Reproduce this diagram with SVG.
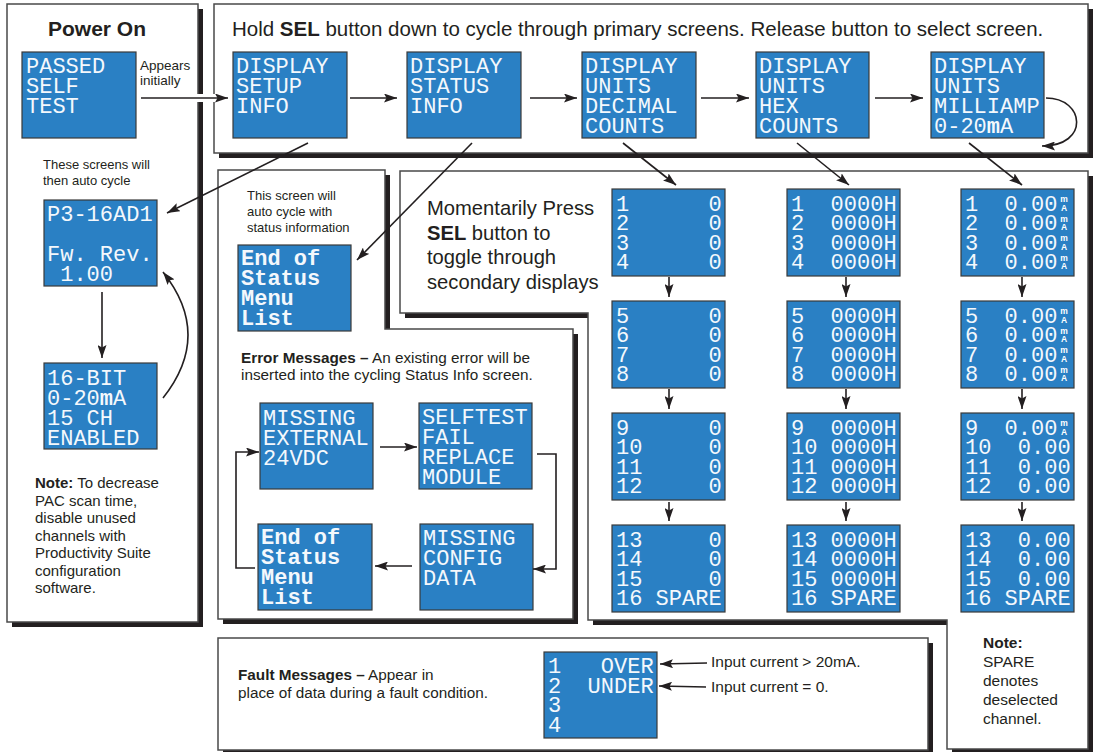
<svg xmlns="http://www.w3.org/2000/svg" width="1096" height="752" viewBox="0 0 1096 752">
<style>
.panel{fill:#fff;stroke:#4a4a4a;stroke-width:1.5}
.shadow{fill:#231f20}
.lcd{fill:#2a80c4;stroke:#3a3a3a;stroke-width:1.2}
.lt{font-family:"Liberation Mono","DejaVu Sans Mono",monospace;font-size:22px;fill:#f4f8fc}
.lb{font-weight:bold}
.mini{font-family:"Liberation Sans",Arial,sans-serif;font-size:8.5px;font-weight:bold;fill:#fff;text-anchor:middle}
.t{font-family:"Liberation Sans",Arial,sans-serif;fill:#231f20}
.c{fill:none;stroke:#231f20;stroke-width:1.6}
.halo{fill:none;stroke:#fff;stroke-width:8}
</style>
<defs>
<marker id="ah" viewBox="0 0 13 9" refX="13" refY="4.5" markerWidth="13" markerHeight="9" markerUnits="userSpaceOnUse" orient="auto"><path d="M0,0 L13,4.5 L0,9 L2.5,4.5 z" fill="#231f20"/></marker>
</defs>

<g id="panels">
<rect class="shadow" x="12" y="9" width="191" height="618"/>
<rect class="panel" x="7" y="4" width="191" height="618"/>
<rect class="shadow" x="219" y="9" width="874" height="149"/>
<rect class="panel" x="214" y="4" width="874" height="149"/>
<polygon class="shadow" transform="translate(5,5)" points="218,170 385,170 385,329 573,329 573,619 218,619"/>
<polygon class="panel" points="218,170 385,170 385,329 573,329 573,619 218,619"/>
<polygon class="shadow" transform="translate(5,5)" points="400,171 1088,171 1088,749 947,749 947,620 588,620 588,313 400,313"/>
<polygon class="panel" points="400,171 1088,171 1088,749 947,749 947,620 588,620 588,313 400,313"/>
<rect class="shadow" x="223" y="643" width="710" height="112"/>
<rect class="panel" x="218" y="638" width="710" height="112"/>
</g>

<g id="texts">
<text class="t" x="97" y="36" font-size="21" font-weight="bold" text-anchor="middle">Power On</text>
<text class="t" x="140" y="70" font-size="13.5">Appears</text>
<text class="t" x="140" y="85" font-size="13.5">initially</text>
<text class="t" x="43" y="169" font-size="13">These screens will</text>
<text class="t" x="43" y="185" font-size="13">then auto cycle</text>
<text class="t" font-size="15"><tspan x="35" y="488"><tspan font-weight="bold">Note:</tspan> To decrease</tspan><tspan x="35" y="505.5">PAC scan time,</tspan><tspan x="35" y="523">disable unused</tspan><tspan x="35" y="540.5">channels with</tspan><tspan x="35" y="558">Productivity Suite</tspan><tspan x="35" y="575.5">configuration</tspan><tspan x="35" y="593">software.</tspan></text>
<text class="t" x="232" y="36" font-size="20.5">Hold <tspan font-weight="bold">SEL</tspan> button down to cycle through primary screens. Release button to select screen.</text>
<text class="t" font-size="20.2"><tspan x="427" y="215">Momentarily Press</tspan><tspan x="427" y="239.5"><tspan font-weight="bold">SEL</tspan> button to</tspan><tspan x="427" y="264">toggle through</tspan><tspan x="427" y="288.5">secondary displays</tspan></text>
<text class="t" font-size="13"><tspan x="247" y="200">This screen will</tspan><tspan x="247" y="216">auto cycle with</tspan><tspan x="247" y="232">status information</tspan></text>
<text class="t" font-size="15.3"><tspan x="241" y="363"><tspan font-weight="bold">Error Messages –</tspan> An existing error will be</tspan><tspan x="241" y="380">inserted into the cycling Status Info screen.</tspan></text>
<text class="t" font-size="15.3"><tspan x="238" y="680"><tspan font-weight="bold">Fault Messages –</tspan> Appear in</tspan><tspan x="238" y="698">place of data during a fault condition.</tspan></text>
<text class="t" x="711" y="667" font-size="15.5">Input current &gt; 20mA.</text>
<text class="t" x="711" y="692" font-size="15.5">Input current = 0.</text>
<text class="t" font-size="15.5"><tspan x="983" y="648" font-weight="bold">Note:</tspan><tspan x="983" y="667">SPARE</tspan><tspan x="983" y="686">denotes</tspan><tspan x="983" y="705">deselected</tspan><tspan x="983" y="724">channel.</tspan></text>
</g>

<g id="scr-passed"><rect class="lcd" x="22" y="52" width="114" height="86"/><text class="lt"><tspan x="26" y="73">PASSED</tspan><tspan x="26" y="93">SELF</tspan><tspan x="26" y="113">TEST</tspan></text></g>
<g id="scr-p3"><rect class="lcd" x="44" y="200" width="113" height="86"/><text class="lt" xml:space="preserve"><tspan x="47" y="221">P3-16AD1</tspan><tspan x="47" y="261">Fw. Rev.</tspan><tspan x="47" y="281"> 1.00</tspan></text></g>
<g id="scr-16bit"><rect class="lcd" x="44" y="363" width="113" height="86"/><text class="lt"><tspan x="47" y="385">16-BIT</tspan><tspan x="47" y="405">0-20<tspan class="lb">m</tspan>A</tspan><tspan x="47" y="425">15 CH</tspan><tspan x="47" y="445">ENABLED</tspan></text></g>

<g id="scr-setup"><rect class="lcd" x="233" y="52" width="114" height="86"/><text class="lt"><tspan x="236" y="73">DISPLAY</tspan><tspan x="236" y="93">SETUP</tspan><tspan x="236" y="113">INFO</tspan></text></g>
<g id="scr-status"><rect class="lcd" x="407" y="52" width="114" height="86"/><text class="lt"><tspan x="410" y="73">DISPLAY</tspan><tspan x="410" y="93">STATUS</tspan><tspan x="410" y="113">INFO</tspan></text></g>
<g id="scr-decimal"><rect class="lcd" x="582" y="52" width="114" height="86"/><text class="lt"><tspan x="585" y="73">DISPLAY</tspan><tspan x="585" y="93">UNITS</tspan><tspan x="585" y="113">DECIMAL</tspan><tspan x="585" y="133">COUNTS</tspan></text></g>
<g id="scr-hex"><rect class="lcd" x="756" y="52" width="113" height="86"/><text class="lt"><tspan x="759" y="73">DISPLAY</tspan><tspan x="759" y="93">UNITS</tspan><tspan x="759" y="113">HEX</tspan><tspan x="759" y="133">COUNTS</tspan></text></g>
<g id="scr-milliamp"><rect class="lcd" x="931" y="52" width="113" height="86"/><text class="lt"><tspan x="934" y="73">DISPLAY</tspan><tspan x="934" y="93">UNITS</tspan><tspan x="934" y="113">MILLIAMP</tspan><tspan x="934" y="133">0-20<tspan class="lb">m</tspan>A</tspan></text></g>

<g id="scr-endstatus"><rect class="lcd" x="238" y="245" width="113" height="86"/><text class="lt lb"><tspan x="241" y="265">End of</tspan><tspan x="241" y="285">Status</tspan><tspan x="241" y="305">Menu</tspan><tspan x="241" y="325">List</tspan></text></g>
<g id="scr-missext"><rect class="lcd" x="260" y="403" width="113" height="86"/><text class="lt"><tspan x="263" y="425">MISSING</tspan><tspan x="263" y="445">EXTERNAL</tspan><tspan x="263" y="465">24VDC</tspan></text></g>
<g id="scr-selftest"><rect class="lcd" x="419" y="403" width="113" height="86"/><text class="lt"><tspan x="422" y="424">SELFTEST</tspan><tspan x="422" y="444">FAIL</tspan><tspan x="422" y="464">REPLACE</tspan><tspan x="422" y="484">MODULE</tspan></text></g>
<g id="scr-missconfig"><rect class="lcd" x="420" y="524" width="113" height="86"/><text class="lt"><tspan x="423" y="545">MISSING</tspan><tspan x="423" y="565">CONFIG</tspan><tspan x="423" y="585">DATA</tspan></text></g>
<g id="scr-endlist"><rect class="lcd" x="258" y="524" width="114" height="86"/><text class="lt lb"><tspan x="261" y="544">End of</tspan><tspan x="261" y="564">Status</tspan><tspan x="261" y="584">Menu</tspan><tspan x="261" y="604">List</tspan></text></g>

<g id="dec-1"><rect class="lcd" x="612" y="189" width="113" height="87"/><text class="lt" xml:space="preserve"><tspan x="616" y="210.5">1      0</tspan><tspan x="616" y="230">2      0</tspan><tspan x="616" y="249.5">3      0</tspan><tspan x="616" y="269">4      0</tspan></text></g>
<g id="dec-2"><rect class="lcd" x="612" y="301" width="113" height="87"/><text class="lt" xml:space="preserve"><tspan x="616" y="322.5">5      0</tspan><tspan x="616" y="342">6      0</tspan><tspan x="616" y="361.5">7      0</tspan><tspan x="616" y="381">8      0</tspan></text></g>
<g id="dec-3"><rect class="lcd" x="612" y="413" width="113" height="87"/><text class="lt" xml:space="preserve"><tspan x="616" y="434.5">9      0</tspan><tspan x="616" y="454">10     0</tspan><tspan x="616" y="473.5">11     0</tspan><tspan x="616" y="493">12     0</tspan></text></g>
<g id="dec-4"><rect class="lcd" x="612" y="525" width="113" height="87"/><text class="lt" xml:space="preserve"><tspan x="616" y="546.5">13     0</tspan><tspan x="616" y="566">14     0</tspan><tspan x="616" y="585.5">15     0</tspan><tspan x="616" y="605">16 SPARE</tspan></text></g>

<g id="hex-1"><rect class="lcd" x="787" y="189" width="113" height="87"/><text class="lt" xml:space="preserve"><tspan x="791" y="210.5">1  0000H</tspan><tspan x="791" y="230">2  0000H</tspan><tspan x="791" y="249.5">3  0000H</tspan><tspan x="791" y="269">4  0000H</tspan></text></g>
<g id="hex-2"><rect class="lcd" x="787" y="301" width="113" height="87"/><text class="lt" xml:space="preserve"><tspan x="791" y="322.5">5  0000H</tspan><tspan x="791" y="342">6  0000H</tspan><tspan x="791" y="361.5">7  0000H</tspan><tspan x="791" y="381">8  0000H</tspan></text></g>
<g id="hex-3"><rect class="lcd" x="787" y="413" width="113" height="87"/><text class="lt" xml:space="preserve"><tspan x="791" y="434.5">9  0000H</tspan><tspan x="791" y="454">10 0000H</tspan><tspan x="791" y="473.5">11 0000H</tspan><tspan x="791" y="493">12 0000H</tspan></text></g>
<g id="hex-4"><rect class="lcd" x="787" y="525" width="113" height="87"/><text class="lt" xml:space="preserve"><tspan x="791" y="546.5">13 0000H</tspan><tspan x="791" y="566">14 0000H</tspan><tspan x="791" y="585.5">15 0000H</tspan><tspan x="791" y="605">16 SPARE</tspan></text></g>

<g id="ma-1"><rect class="lcd" x="961" y="189" width="113" height="87"/><text class="lt" xml:space="preserve"><tspan x="965" y="210.5">1  0.00</tspan><tspan x="965" y="230">2  0.00</tspan><tspan x="965" y="249.5">3  0.00</tspan><tspan x="965" y="269">4  0.00</tspan></text>
<text class="mini"><tspan x="1064" y="202">m</tspan><tspan x="1064" y="210.5">A</tspan><tspan x="1064" y="221.5">m</tspan><tspan x="1064" y="230">A</tspan><tspan x="1064" y="241">m</tspan><tspan x="1064" y="249.5">A</tspan><tspan x="1064" y="260.5">m</tspan><tspan x="1064" y="269">A</tspan></text></g>
<g id="ma-2"><rect class="lcd" x="961" y="301" width="113" height="87"/><text class="lt" xml:space="preserve"><tspan x="965" y="322.5">5  0.00</tspan><tspan x="965" y="342">6  0.00</tspan><tspan x="965" y="361.5">7  0.00</tspan><tspan x="965" y="381">8  0.00</tspan></text>
<text class="mini"><tspan x="1064" y="314">m</tspan><tspan x="1064" y="322.5">A</tspan><tspan x="1064" y="333.5">m</tspan><tspan x="1064" y="342">A</tspan><tspan x="1064" y="353">m</tspan><tspan x="1064" y="361.5">A</tspan><tspan x="1064" y="372.5">m</tspan><tspan x="1064" y="381">A</tspan></text></g>
<g id="ma-3"><rect class="lcd" x="961" y="413" width="113" height="87"/><text class="lt" xml:space="preserve"><tspan x="965" y="434.5">9  0.00</tspan><tspan x="965" y="454">10  0.00</tspan><tspan x="965" y="473.5">11  0.00</tspan><tspan x="965" y="493">12  0.00</tspan></text>
<text class="mini"><tspan x="1064" y="426">m</tspan><tspan x="1064" y="434.5">A</tspan></text></g>
<g id="ma-4"><rect class="lcd" x="961" y="525" width="113" height="87"/><text class="lt" xml:space="preserve"><tspan x="965" y="546.5">13  0.00</tspan><tspan x="965" y="566">14  0.00</tspan><tspan x="965" y="585.5">15  0.00</tspan><tspan x="965" y="605">16 SPARE</tspan></text></g>

<g id="scr-fault"><rect class="lcd" x="544" y="652" width="113" height="86"/><text class="lt" xml:space="preserve"><tspan x="548" y="673">1   OVER</tspan><tspan x="548" y="692.5">2  UNDER</tspan><tspan x="548" y="712">3</tspan><tspan x="548" y="731.5">4</tspan></text></g>

<g id="connectors">
<line class="halo" x1="195" y1="98" x2="218" y2="98"/>
<line class="c" x1="141" y1="98" x2="228" y2="98" marker-end="url(#ah)"/>
<line class="c" x1="350" y1="98" x2="397" y2="98" marker-end="url(#ah)"/>
<line class="c" x1="530" y1="98" x2="577" y2="98" marker-end="url(#ah)"/>
<line class="c" x1="701" y1="98" x2="749" y2="98" marker-end="url(#ah)"/>
<line class="c" x1="875" y1="98" x2="923" y2="98" marker-end="url(#ah)"/>
<path class="c" d="M1046,98 C1085,98 1090,146 1042,146" marker-end="url(#ah)"/>
<line class="c" x1="308" y1="143" x2="167" y2="213" marker-end="url(#ah)"/>
<line class="c" x1="472" y1="143" x2="357" y2="260" marker-end="url(#ah)"/>
<line class="c" x1="623" y1="143" x2="676" y2="185" marker-end="url(#ah)"/>
<line class="c" x1="797" y1="143" x2="849" y2="185" marker-end="url(#ah)"/>
<line class="c" x1="969" y1="143" x2="1022" y2="185" marker-end="url(#ah)"/>
<line class="c" x1="102" y1="292" x2="102" y2="358" marker-end="url(#ah)"/>
<path class="c" d="M163,398 Q213,335 163,272" marker-end="url(#ah)"/>
<line class="c" x1="380" y1="447" x2="417" y2="447" marker-end="url(#ah)"/>
<path class="c" d="M537,454 H556 V569 H533" marker-end="url(#ah)"/>
<line class="c" x1="412" y1="566" x2="375" y2="566" marker-end="url(#ah)"/>
<path class="c" d="M255,568 H236 V452 H259" marker-end="url(#ah)"/>
<line class="c" x1="669" y1="277" x2="669" y2="297" marker-end="url(#ah)"/>
<line class="c" x1="669" y1="389" x2="669" y2="409" marker-end="url(#ah)"/>
<line class="c" x1="669" y1="502" x2="669" y2="521" marker-end="url(#ah)"/>
<line class="c" x1="846" y1="277" x2="846" y2="297" marker-end="url(#ah)"/>
<line class="c" x1="846" y1="389" x2="846" y2="409" marker-end="url(#ah)"/>
<line class="c" x1="846" y1="502" x2="846" y2="521" marker-end="url(#ah)"/>
<line class="c" x1="1022" y1="277" x2="1022" y2="297" marker-end="url(#ah)"/>
<line class="c" x1="1022" y1="389" x2="1022" y2="409" marker-end="url(#ah)"/>
<line class="c" x1="1022" y1="502" x2="1022" y2="521" marker-end="url(#ah)"/>
<line class="c" x1="707" y1="663" x2="660" y2="664" marker-end="url(#ah)"/>
<line class="c" x1="706" y1="687" x2="659" y2="686" marker-end="url(#ah)"/>
</g>
</svg>
